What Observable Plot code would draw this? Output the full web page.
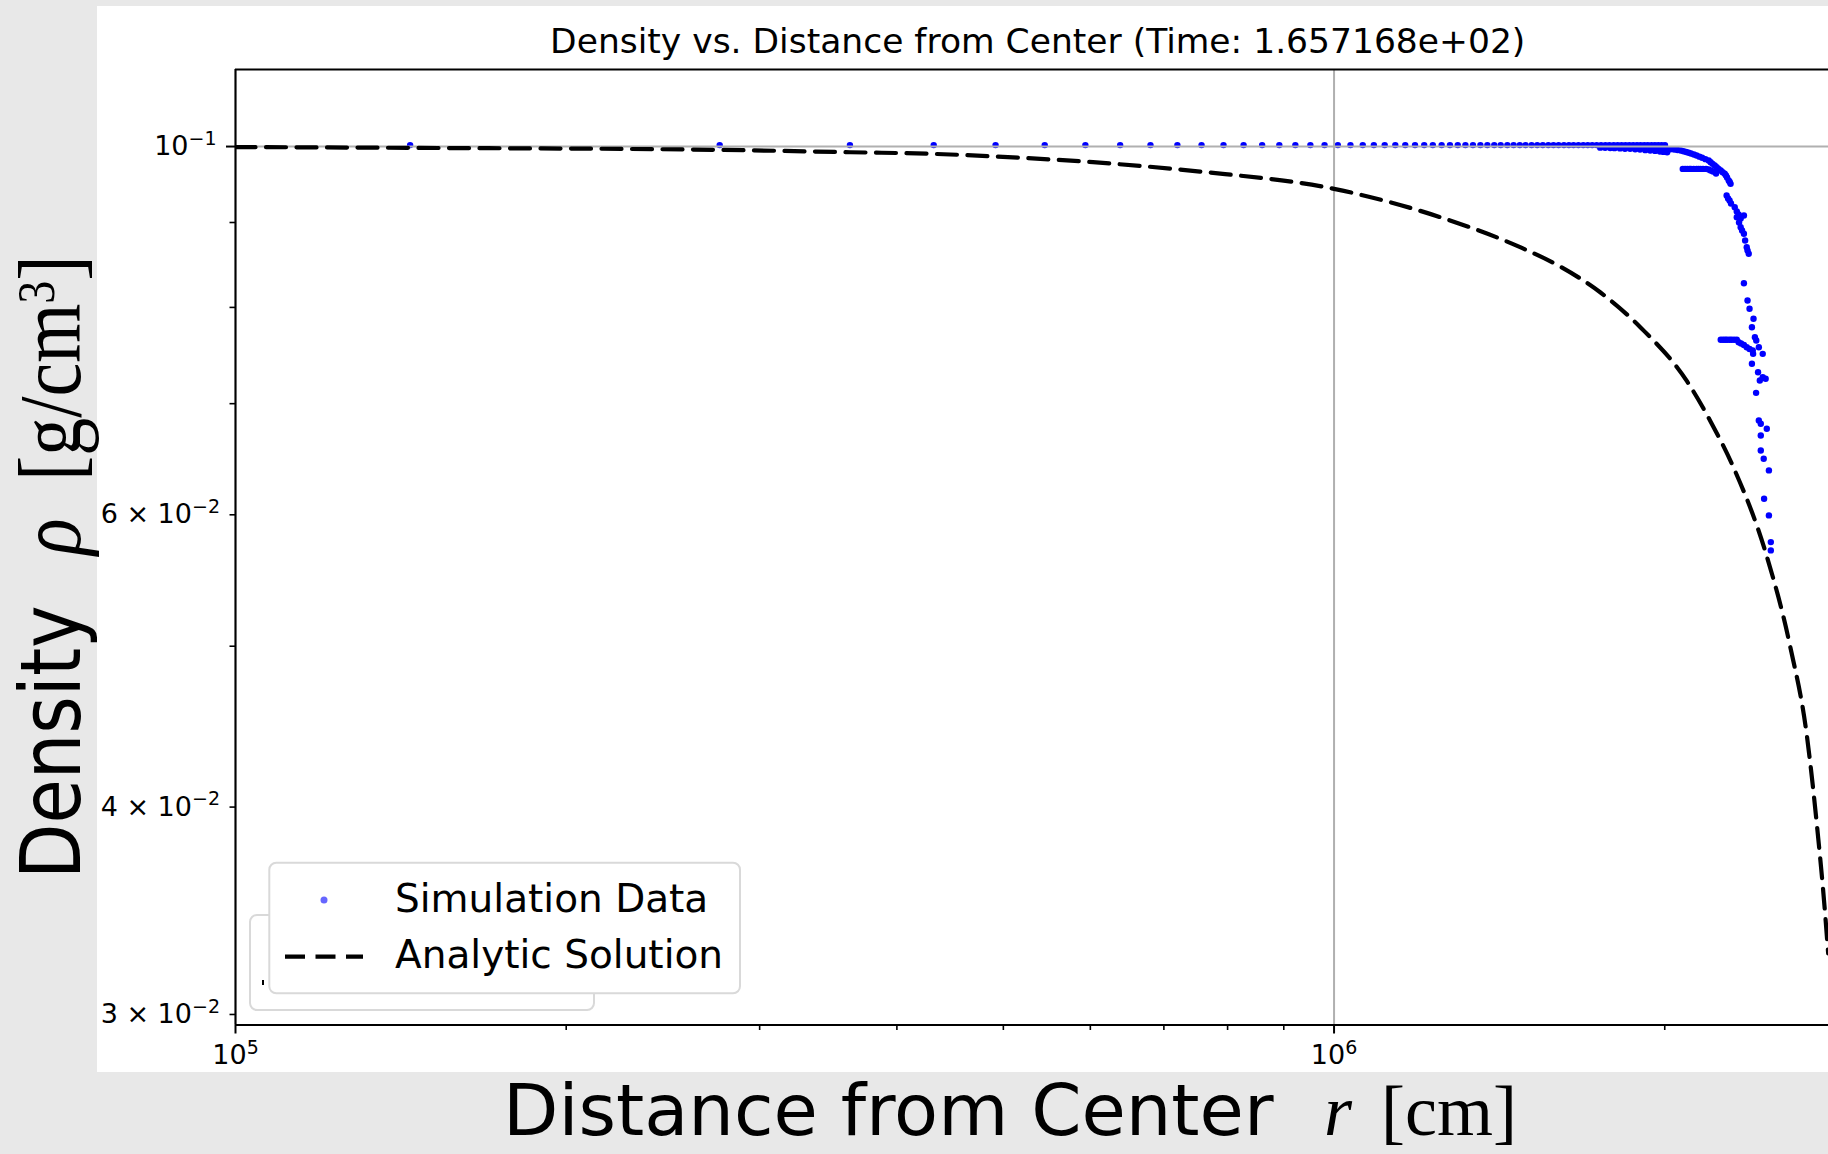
<!DOCTYPE html>
<html><head><meta charset="utf-8">
<script src="https://cdn.jsdelivr.net/npm/d3@7"></script>
<script src="https://cdn.jsdelivr.net/npm/@observablehq/plot@0.6"></script>
<style>
html,body{margin:0;padding:0;background:#e8e8e8;}
#wrap{position:relative;width:1828px;height:1154px;overflow:hidden;}
#paper{position:absolute;left:97px;top:6px;width:1731px;height:1066px;background:#fff;}
#chart{position:absolute;left:0;top:0;}
</style></head><body>
<div id="wrap"><div id="paper"></div><div id="chart"></div></div>
<script>
// ---------- texts ----------
const titleText = "Density vs. Distance from Center (Time: 1.657168e+02)";
const legendLabels = ["Simulation Data", "Analytic Solution"];

// ---------- scales / ticks ----------
const xDomain = [1e5, 2.819e6];
const yDomain = [0.029565, 0.11128];
const xTickValues = [1e5, 1e6];
const xTickLabels = ["10^{5}", "10^{6}"];
const xMinorTickValues = [2e5, 3e5, 4e5, 5e5, 6e5, 7e5, 8e5, 9e5, 2e6];
const yTickValues = [0.1];
const yTickLabels = ["10^{−1}"];
const yMinorTickValues = [0.03, 0.04, 0.05, 0.06, 0.07, 0.08, 0.09];
const yMinorTickLabels = ["3 × 10^{−2}", "4 × 10^{−2}", "", "6 × 10^{−2}", "", "", ""];

// ---------- analytic solution ----------
const analyticR = [1.000e5, 1.443e5, 2.760e5, 3.629e5, 4.319e5, 4.937e5, 6.034e5, 7.551e5, 1.000e6,
  1.249e6, 1.477e6, 1.606e6, 1.748e6, 1.901e6, 2.096e6, 2.204e6, 2.310e6, 2.477e6, 2.601e6, 2.694e6, 2.751e6, 2.799e6, 2.817e6];
const analyticRho = [0.09993, 0.09982, 0.09954, 0.09921, 0.09899, 0.09862, 0.09785, 0.09659, 0.09430,
  0.09067, 0.08697, 0.08467, 0.08167, 0.07781, 0.07219, 0.06820, 0.06407, 0.05664, 0.05001, 0.04417, 0.03905, 0.03451, 0.03265];

// ---------- simulation data ----------
// flat interior (rho ~ 0.1002)
const flatR = [1.442e5, 2.759e5, 3.625e5, 4.321e5, 4.919e5, 5.453e5, 5.938e5, 6.387e5, 6.806e5, 7.201e5,
  7.575e5, 7.932e5, 8.273e5, 8.601e5, 8.916e5, 9.221e5, 9.516e5, 9.803e5, 1.008e6, 1.035e6,
  1.062e6, 1.087e6, 1.112e6, 1.137e6, 1.161e6, 1.185e6, 1.208e6, 1.230e6, 1.253e6, 1.275e6,
  1.296e6, 1.317e6, 1.338e6, 1.359e6, 1.379e6, 1.399e6, 1.418e6, 1.438e6, 1.457e6, 1.476e6,
  1.494e6, 1.513e6, 1.531e6, 1.549e6, 1.567e6, 1.584e6, 1.601e6, 1.619e6, 1.636e6, 1.652e6,
  1.669e6, 1.686e6, 1.702e6, 1.718e6, 1.734e6, 1.750e6, 1.766e6, 1.781e6, 1.797e6, 1.812e6,
  1.827e6, 1.842e6, 1.857e6, 1.872e6, 1.887e6, 1.901e6, 1.916e6, 1.930e6, 1.945e6, 1.959e6,
  1.973e6, 1.987e6, 2.001e6];
const flatRho = flatR.map(() => 0.1002);
// outer shell: band, arcs, branches, steep edge
const edgeR = [
  1.747e6, 1.765e6, 1.784e6, 1.800e6, 1.821e6, 1.840e6, 1.860e6, 1.880e6, 1.899e6, 1.920e6, 1.940e6, 1.960e6, 1.980e6, 1.995e6, 2.010e6,
  1.950e6, 1.964e6, 1.980e6, 1.995e6, 2.010e6, 2.024e6, 2.040e6, 2.054e6, 2.068e6, 2.080e6, 2.092e6, 2.103e6, 2.113e6, 2.126e6,
  2.138e6, 2.151e6, 2.163e6, 2.178e6, 2.193e6, 2.202e6, 2.211e6, 2.221e6, 2.230e6, 2.239e6, 2.249e6, 2.258e6, 2.268e6, 2.274e6,
  2.279e6, 2.287e6, 2.292e6, 2.296e6,
  2.077e6, 2.087e6, 2.097e6, 2.107e6, 2.113e6, 2.125e6, 2.138e6, 2.147e6, 2.156e6, 2.167e6, 2.181e6, 2.193e6, 2.202e6, 2.213e6, 2.227e6,
  2.277e6, 2.284e6, 2.291e6, 2.298e6, 2.316e6, 2.326e6, 2.335e6, 2.361e6, 2.326e6, 2.345e6, 2.337e6, 2.345e6, 2.352e6, 2.361e6,
  2.367e6, 2.375e6, 2.379e6, 2.385e6,
  2.361e6, 2.379e6, 2.389e6, 2.409e6, 2.401e6, 2.416e6, 2.423e6, 2.436e6, 2.456e6,
  2.249e6, 2.260e6, 2.270e6, 2.279e6, 2.291e6, 2.301e6, 2.313e6, 2.326e6, 2.335e6, 2.347e6, 2.361e6, 2.375e6, 2.389e6, 2.405e6, 2.407e6,
  2.401e6, 2.432e6, 2.456e6, 2.471e6, 2.441e6, 2.422e6,
  2.436e6, 2.446e6, 2.477e6, 2.446e6, 2.446e6, 2.461e6, 2.488e6, 2.463e6, 2.488e6, 2.498e6, 2.498e6];
const edgeRho = [
  0.09985, 0.09984, 0.09980, 0.09978, 0.09974, 0.09970, 0.09968, 0.09962, 0.09958, 0.09950, 0.09945, 0.09940, 0.09932, 0.09926, 0.09921,
  0.09982, 0.09979, 0.09975, 0.09972, 0.09968, 0.09963, 0.09958, 0.09952, 0.09945, 0.09935, 0.09924, 0.09914, 0.09903, 0.09890,
  0.09876, 0.09861, 0.09845, 0.09827, 0.09808, 0.09786, 0.09763, 0.09740, 0.09717, 0.09695, 0.09673, 0.09651, 0.09629, 0.09606,
  0.09579, 0.09540, 0.09520, 0.09496,
  0.09695, 0.09695, 0.09695, 0.09695, 0.09695, 0.09695, 0.09695, 0.09695, 0.09695, 0.09695, 0.09695, 0.09686, 0.09673, 0.09659, 0.09633,
  0.09343, 0.09305, 0.09279, 0.09240, 0.09193, 0.09138, 0.09100, 0.09088, 0.09067, 0.09050, 0.09000, 0.08942, 0.08901, 0.08860,
  0.08778, 0.08697, 0.08657, 0.08618,
  0.08273, 0.08077, 0.07985, 0.07875, 0.07783, 0.07676, 0.07641, 0.07570, 0.07501,
  0.07649, 0.07649, 0.07649, 0.07649, 0.07649, 0.07649, 0.07649, 0.07649, 0.07623, 0.07610, 0.07594, 0.07570, 0.07552, 0.07536, 0.07501,
  0.07398, 0.07312, 0.07262, 0.07246, 0.07229, 0.07106,
  0.06839, 0.06807, 0.06760, 0.06698, 0.06560, 0.06485, 0.06381, 0.06135, 0.05995, 0.05777, 0.05711];

// ---------- build tables ----------
const sim = flatR.map((r, i) => ({r, rho: flatRho[i]}))
  .concat(edgeR.map((r, i) => ({r, rho: edgeRho[i]})));
const analytic = analyticR.map((r, i) => ({r, rho: analyticRho[i]}));
const xLabelMap = new Map(xTickValues.map((v, i) => [v, xTickLabels[i]]));
const yLabelMap = new Map(yTickValues.map((v, i) => [v, yTickLabels[i]]));
const yMinorMap = new Map(yMinorTickValues.map((v, i) => [v, yMinorTickLabels[i]]));

const W = 1828, H = 1154;
const chart = Plot.plot({
  width: W, height: H,
  marginLeft: 235, marginRight: 0, marginTop: 69, marginBottom: 129.5,
  style: {background: "transparent", fontFamily: "DejaVu Sans", color: "black", overflow: "visible"},
  x: {type: "log", domain: xDomain, label: null},
  y: {type: "log", domain: yDomain, label: null},
  marks: [
    Plot.dot(sim, {x: "r", y: "rho", r: 3.2, fill: "#0000ff", stroke: "none"}),
    Plot.ruleX(xTickValues, {stroke: "#b0b0b0", strokeWidth: 2}),
    Plot.ruleY(yTickValues, {stroke: "#b0b0b0", strokeWidth: 2}),
    Plot.line(analytic, {x: "r", y: "rho", stroke: "black", strokeWidth: 4.2, strokeDasharray: "20,10.5", curve: "monotone-x", clip: true}),
    Plot.ruleX([xDomain[0]], {stroke: "black", strokeWidth: 2}),
    Plot.ruleY([yDomain[0], yDomain[1]], {stroke: "black", strokeWidth: 2}),
    Plot.axisX({ticks: xTickValues, tickFormat: d => xLabelMap.get(d), tickSize: 9, tickPadding: 11, fontSize: 27, strokeWidth: 2, label: null, anchor: "bottom"}),
    Plot.axisX({ticks: xMinorTickValues, tickFormat: () => "", tickSize: 5.5, strokeWidth: 1.6, label: null, anchor: "bottom"}),
    Plot.axisY({ticks: yTickValues, tickFormat: d => yLabelMap.get(d), tickSize: 9, tickPadding: 10, fontSize: 27, strokeWidth: 2, label: null, anchor: "left"}),
    Plot.axisY({ticks: yMinorTickValues, tickFormat: d => yMinorMap.get(d), tickSize: 5.5, tickPadding: 10, fontSize: 27, strokeWidth: 1.6, label: null, anchor: "left"})
  ]
});
document.getElementById("chart").appendChild(chart);

const s = d3.select(chart);
// superscripts in tick labels
s.selectAll("text").each(function () {
  const t = this.textContent;
  const m = t.match(/^(.*)\^\{(.*)\}$/);
  if (!m) return;
  const el = d3.select(this);
  el.text(null);
  el.append("tspan").text(m[1]);
  el.append("tspan").attr("dy", -10.5).attr("font-size", 19).text(m[2]);
});

const mathFont = "Liberation Serif";
// title
s.append("text").attr("x", 1037.7).attr("y", 52.7).attr("text-anchor", "middle")
  .attr("font-family", "DejaVu Sans").attr("font-size", 34.5).attr("fill", "black").text(titleText);

// x label
const xl = s.append("text").attr("y", 1135).attr("font-size", 72).attr("fill", "black").attr("text-anchor", "start");
xl.append("tspan").attr("x", 503).attr("font-family", "DejaVu Sans").text("Distance from Center");
xl.append("tspan").attr("x", 1324).attr("font-family", mathFont).attr("font-style", "italic").text("r");
xl.append("tspan").attr("x", 1381).attr("font-family", mathFont).text("[cm]");

// y label
const yl = s.append("text").attr("transform", "translate(80,879) rotate(-90) scale(1,1.16)").attr("font-size", 72)
  .attr("fill", "black").attr("text-anchor", "start");
yl.append("tspan").attr("x", 0).attr("font-family", "DejaVu Sans").text("Density");
yl.append("tspan").attr("x", 324).attr("font-family", mathFont).attr("font-style", "italic").attr("font-size", 76).text("ρ");
yl.append("tspan").attr("x", 398).attr("font-family", mathFont).attr("font-size", 76).text("[g/cm");
yl.append("tspan").attr("dy", -22).attr("font-size", 46).attr("font-family", mathFont).text("3");
yl.append("tspan").attr("dy", 22).attr("font-family", mathFont).attr("font-size", 76).text("]");

// legend
const lg = s.append("g").attr("text-anchor", "start");
lg.append("rect").attr("x", 250).attr("y", 915).attr("width", 344).attr("height", 95).attr("rx", 7)
  .attr("fill", "white").attr("stroke", "#d9d9d9").attr("stroke-width", 2);
lg.append("rect").attr("x", 262).attr("y", 980).attr("width", 2).attr("height", 5).attr("fill", "black");
lg.append("rect").attr("x", 269.3).attr("y", 862.7).attr("width", 470.7).attr("height", 130.6).attr("rx", 7)
  .attr("fill", "white").attr("stroke", "#d9d9d9").attr("stroke-width", 2);
lg.append("circle").attr("cx", 324).attr("cy", 900).attr("r", 3.5).attr("fill", "#0000ff").attr("fill-opacity", 0.6);
lg.append("line").attr("x1", 285).attr("x2", 363).attr("y1", 956.7).attr("y2", 956.7)
  .attr("stroke", "black").attr("stroke-width", 4.2).attr("stroke-dasharray", "20,10.5");
lg.append("text").attr("x", 395).attr("y", 911.7).attr("font-family", "DejaVu Sans").attr("font-size", 39).attr("fill", "black").text(legendLabels[0]);
lg.append("text").attr("x", 395).attr("y", 968.3).attr("font-family", "DejaVu Sans").attr("font-size", 39).attr("fill", "black").text(legendLabels[1]);
</script>
</body></html>
